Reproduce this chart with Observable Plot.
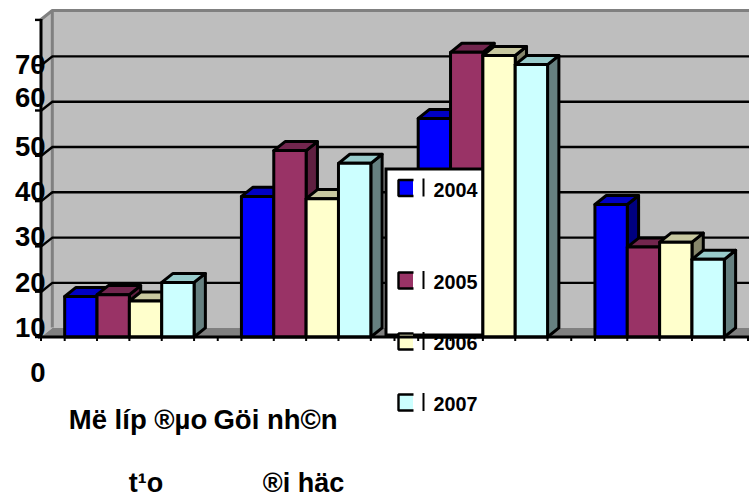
<!DOCTYPE html>
<html>
<head>
<meta charset="utf-8">
<style>html,body{margin:0;padding:0;background:#fff}svg{display:block}</style>
<script src="https://cdn.jsdelivr.net/npm/d3@7"></script>
<script src="https://cdn.jsdelivr.net/npm/@observablehq/plot@0.6"></script>
</head>
<body>
<script>
// Chart values
const years = ["2004", "2005", "2006", "2007"];
const groupValues = [
  [17, 17.4, 16, 20.1],
  [39.1, 49.2, 38.6, 46.4],
  [56.3, 70.9, 70.2, 68.2],
  [37.3, 27.9, 29, 25.2]
];
const groupLabels = [["Më líp ®µo", "t¹o"], ["Göi nh©n", "®i häc"]];
const tickLabels = ["0", "10", "20", "30", "40", "50", "60", "70"];
const gridValues = [20, 30, 40, 50, 60, 70];
const frontColors = ["#0000ff", "#993366", "#ffffcc", "#ccffff"];
const topColors = ["#0000c4", "#72264e", "#c8c8a0", "#99cccc"];
const sideColors = ["#000080", "#5f1f40", "#86866c", "#668080"];

// Scale set-up: one group band wide on x, one value unit tall on y
const W = 749, H = 497;
const bandPx = 176.75, originX = 40.5, unitPx = 4.53, originY = 373;
const X = (px) => (px - originX) / bandPx;
const Y = (py) => (originY - py) / unitPx;

const barW = 0.183, groupPad = 0.134;
const depthX = 0.064, depthY = 2;
const floorV = Y(336.5);
const axisTopV = Y(19);
const wallTopV = Y(10);

// Polygons of the three visible faces of each bar, painted left to right
const barFaces = [];
groupValues.forEach((vals, g) => vals.forEach((v, s) => {
  const x0 = g + groupPad + s * barW, x1 = x0 + barW;
  const id = `${g}-${s}`;
  const add = (face, color, pts) => pts.forEach(([x, y]) => barFaces.push({id: id + face, g, s, color, x, y}));
  add("side", sideColors[s], [[x1, floorV], [x1 + depthX, floorV + depthY], [x1 + depthX, v + depthY], [x1, v]]);
  add("top", topColors[s], [[x0, v], [x1, v], [x1 + depthX, v + depthY], [x0 + depthX, v + depthY]]);
  add("front", frontColors[s], [[x0, floorV], [x1, floorV], [x1, v], [x0, v]]);
}));
// The legend box sits between the second and third bars of the third group
const underLegend = barFaces.filter((d) => d.g < 2 || (d.g === 2 && d.s < 2));
const overLegend = barFaces.filter((d) => !(d.g < 2 || (d.g === 2 && d.s < 2)));
const faceMark = (data) => Plot.line(data, {
  x: "x", y: "y", z: "id", curve: "linear-closed",
  fill: {value: "color", scale: null},
  stroke: "#000", strokeWidth: 3, strokeLinejoin: "round"
});

const bold = {fontFamily: "'Liberation Sans', Arial, sans-serif", fontWeight: "bold", fill: "#000"};
const xEnd = X(W);
const xLeftBack = depthX;

// Walls and floor of the box
const wall = [{x: xLeftBack, y: floorV + depthY}, {x: xEnd, y: floorV + depthY}, {x: xEnd, y: wallTopV}, {x: xLeftBack, y: wallTopV}];
const leftWall = [{x: 0, y: floorV}, {x: xLeftBack, y: floorV + depthY}, {x: xLeftBack, y: wallTopV}, {x: 0, y: axisTopV}];
const floor = [{x: 0, y: floorV}, {x: xEnd, y: floorV}, {x: xEnd, y: floorV + depthY}, {x: xLeftBack, y: floorV + depthY}];
const polygon = (pts, fill) => Plot.line(pts, {x: "x", y: "y", curve: "linear-closed", fill, stroke: "none"});

// Front-plane ticks on the value axis
const frontTicks = d3.range(8).map((k) => floorV + k * 10);
// Tick marks along the category axis
const barEdges = groupValues.flatMap((vals, g) => d3.range(vals.length + 1).map((s) => g + groupPad + s * barW));
const bandEdges = d3.range(5);

// Label heights of the value axis; the two top labels sit slightly off the even spacing
const labelHeights = [0, 10, 20, 30, 40, 50, 60.7, 68];

const legendRows = [
  {year: years[0], swatch: 187.5, text: 190},
  {year: years[1], swatch: 280, text: 282},
  {year: years[2], swatch: 341, text: 343},
  {year: years[3], swatch: 402, text: 404}
].map((d, i) => ({...d, color: frontColors[i]}));

const chart = Plot.plot({
  width: W, height: H,
  margin: 0,
  x: {domain: [X(0), X(W)], range: [0, W], axis: null},
  y: {domain: [Y(H), Y(0)], range: [H, 0], axis: null},
  style: {background: "#fff"},
  marks: [
    polygon(wall, "#bebebe"),
    polygon(leftWall, "#bebebe"),
    polygon(floor, "#808080"),
    // Gray outline of the box
    Plot.line([{x: 0, y: axisTopV}, {x: xLeftBack, y: wallTopV}, {x: xEnd, y: wallTopV}], {x: "x", y: "y", stroke: "#808080", strokeWidth: 3}),
    Plot.ruleX([xLeftBack], {y1: floorV + depthY, y2: wallTopV, stroke: "#808080", strokeWidth: 3}),
    // Gridlines on the back wall and their continuation across the side wall
    Plot.ruleY(gridValues, {x1: xLeftBack, x2: xEnd, stroke: "#000", strokeWidth: 2.4}),
    Plot.link(gridValues, {x1: 0, y1: (d) => d - depthY, x2: xLeftBack, y2: (d) => d, stroke: "#000", strokeWidth: 2.4}),
    faceMark(underLegend),
    // Legend box
    Plot.rect([0], {x1: X(386), x2: X(483), y1: Y(335), y2: Y(169), fill: "#fff", stroke: "#000", strokeWidth: 3}),
    Plot.rect(legendRows, {x1: X(398), x2: X(413), y1: (d) => Y(d.swatch + 8), y2: (d) => Y(d.swatch - 8), fill: "color"}),
    Plot.line(legendRows.flatMap((d) => [
      {k: d.year, x: X(413), y: Y(d.swatch - 8)},
      {k: d.year, x: X(398), y: Y(d.swatch - 8)},
      {k: d.year, x: X(398), y: Y(d.swatch + 8)},
      {k: d.year, x: X(413), y: Y(d.swatch + 8)}
    ]), {x: "x", y: "y", z: "k", stroke: "#000", strokeWidth: 2.4, strokeLinejoin: "miter", strokeLinecap: "butt"}),
    Plot.ruleX(legendRows, {x: () => X(423), y1: (d) => Y(d.swatch + 9), y2: (d) => Y(d.swatch - 9), stroke: "#000", strokeWidth: 2}),
    Plot.text(legendRows, {x: () => X(433), y: (d) => Y(d.text), text: "year", textAnchor: "start", fontSize: 19.8, ...bold}),
    faceMark(overLegend),
    // Axis lines and ticks
    Plot.ruleY([floorV], {x1: X(38), x2: xEnd, stroke: "#000", strokeWidth: 3}),
    Plot.ruleX([0], {y1: floorV, y2: axisTopV, stroke: "#000", strokeWidth: 3}),
    Plot.ruleY(frontTicks, {x1: X(35), x2: 0, stroke: "#000", strokeWidth: 2.4}),
    Plot.ruleX(barEdges.concat(bandEdges), {y1: floorV, y2: Y(341), stroke: "#000", strokeWidth: 2}),
    // Value labels
    Plot.text(tickLabels, {x: () => X(45), y: (d, i) => labelHeights[i], text: (d) => d, textAnchor: "end", fontSize: 27.5, ...bold}),
    // Category labels, two lines each
    Plot.text(groupLabels, {x: (d, i) => X([137.5, 275][i]), y: () => Y(420), text: (d) => d[0], fontSize: 27.5, ...bold}),
    Plot.text(groupLabels, {x: (d, i) => X([145.5, 303][i]), y: () => Y(482.5), text: (d) => d[1], fontSize: 27, ...bold})
  ]
});
document.body.appendChild(chart);
</script>
</body>
</html>
